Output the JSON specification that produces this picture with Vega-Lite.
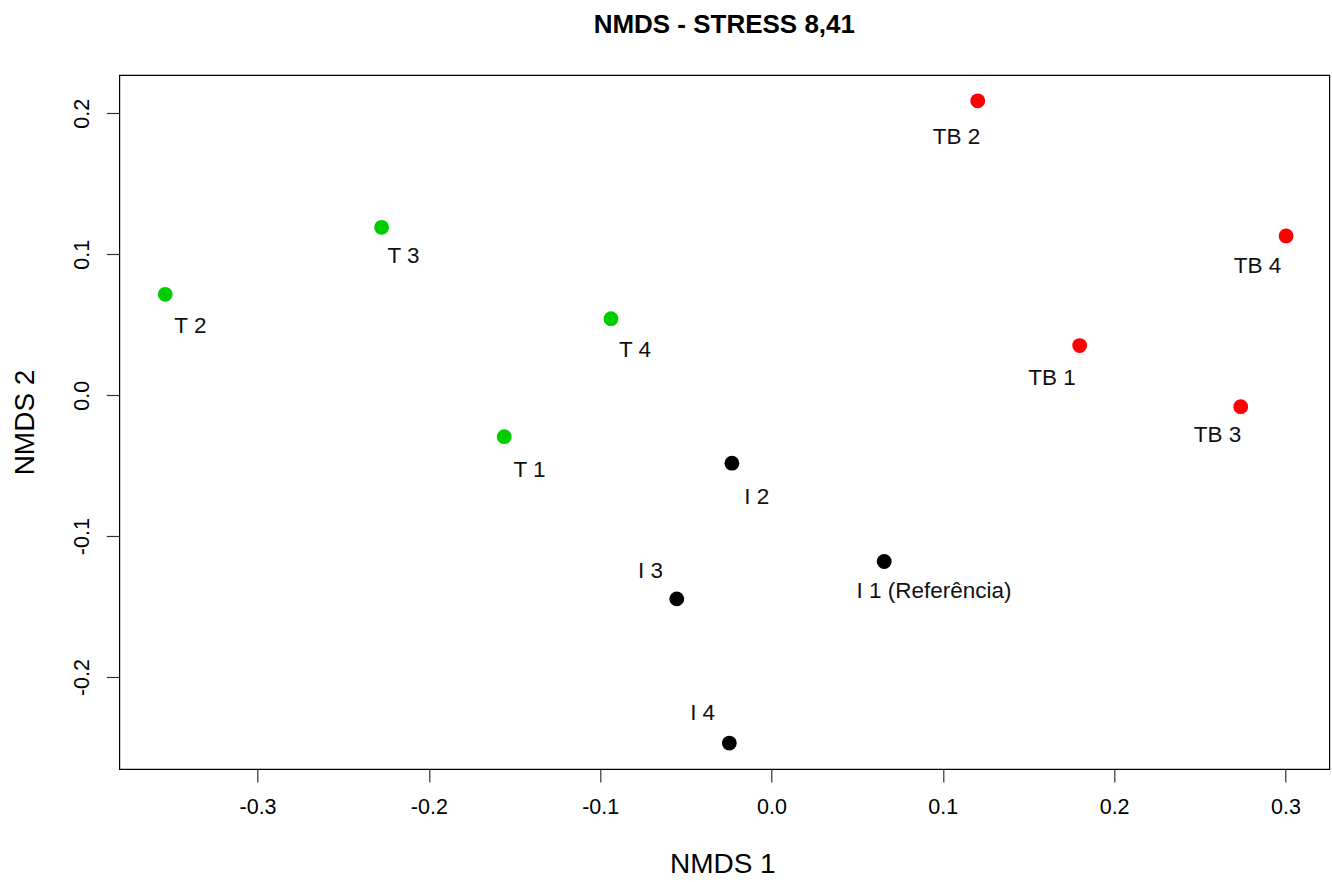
{
  "$schema": "https://vega.github.io/schema/vega-lite/v6.json",
  "width": 1210,
  "height": 694,
  "autosize": {"type": "none"},
  "padding": {"left": 119.3, "top": 75, "right": 2.7, "bottom": 112.7},
  "background": "white",
  "title": {
    "text": "NMDS - STRESS 8,41",
    "font": "Liberation Sans",
    "fontSize": 26,
    "fontWeight": "bold",
    "color": "black",
    "anchor": "middle",
    "baseline": "alphabetic",
    "offset": 44,
    "dy": 28
  },
  "config": {
    "view": {"stroke": "black", "strokeWidth": 1.2},
    "axis": {
      "domain": false,
      "grid": false,
      "ticks": true,
      "tickSize": 13,
      "tickColor": "#333333",
      "tickWidth": 1.2,
      "labelFont": "Liberation Sans",
      "labelFontSize": 21.5,
      "labelColor": "black",
      "titleFont": "Liberation Sans",
      "titleFontSize": 28,
      "titleFontWeight": "normal",
      "titleColor": "black"
    }
  },
  "data": {
    "values": [
      {"id": "TB 2", "group": "TB", "x": 0.1204, "y": 0.2089, "lx": 0.1080, "ly": 0.1780},
      {"id": "TB 4", "group": "TB", "x": 0.3004, "y": 0.1130, "lx": 0.2837, "ly": 0.0870},
      {"id": "TB 1", "group": "TB", "x": 0.1799, "y": 0.0352, "lx": 0.1637, "ly": 0.0073},
      {"id": "TB 3", "group": "TB", "x": 0.2739, "y": -0.0081, "lx": 0.2604, "ly": -0.0329},
      {"id": "T 3", "group": "T", "x": -0.2276, "y": 0.1191, "lx": -0.2148, "ly": 0.0936},
      {"id": "T 2", "group": "T", "x": -0.3539, "y": 0.0716, "lx": -0.3392, "ly": 0.0440},
      {"id": "T 4", "group": "T", "x": -0.0937, "y": 0.0543, "lx": -0.0797, "ly": 0.0270},
      {"id": "T 1", "group": "T", "x": -0.1560, "y": -0.0294, "lx": -0.1413, "ly": -0.0577},
      {"id": "I 2", "group": "I", "x": -0.0231, "y": -0.0482, "lx": -0.0086, "ly": -0.0773},
      {"id": "I 1 (Referência)", "group": "I", "x": 0.0658, "y": -0.1180, "lx": 0.0949, "ly": -0.1440},
      {"id": "I 3", "group": "I", "x": -0.0553, "y": -0.1445, "lx": -0.0706, "ly": -0.1298},
      {"id": "I 4", "group": "I", "x": -0.0246, "y": -0.2468, "lx": -0.0402, "ly": -0.2303}
    ]
  },
  "layer": [
    {
      "mark": {"type": "point", "shape": "circle", "filled": true, "size": 220, "opacity": 1, "strokeWidth": 0},
      "encoding": {
        "x": {
          "field": "x", "type": "quantitative",
          "scale": {"domain": [-0.3807, 0.3256], "nice": false, "zero": false},
          "axis": {
            "title": "NMDS 1",
            "values": [-0.3, -0.2, -0.1, 0, 0.1, 0.2, 0.3],
            "labelExpr": "datum.value < 0 ? '-' + format(abs(datum.value), '.1f') : format(datum.value, '.1f')",
            "labelPadding": 15,
            "titleBaseline": "alphabetic",
            "titleY": 104,
            "titleX": 603
          }
        },
        "y": {
          "field": "y", "type": "quantitative",
          "scale": {"domain": [-0.2652, 0.2272], "nice": false, "zero": false},
          "axis": {
            "title": "NMDS 2",
            "values": [-0.2, -0.1, 0, 0.1, 0.2],
            "labelExpr": "datum.value < 0 ? '-' + format(abs(datum.value), '.1f') : format(datum.value, '.1f')",
            "labelAngle": -90,
            "labelAlign": "center",
            "labelBaseline": "bottom",
            "labelPadding": 13,
            "titleAngle": -90,
            "titleBaseline": "alphabetic",
            "titleX": -86.3,
            "titleY": 347
          }
        },
        "color": {
          "field": "group", "type": "nominal",
          "scale": {"domain": ["I", "T", "TB"], "range": ["#000000", "#00CD00", "#FF0000"]},
          "legend": null
        }
      }
    },
    {
      "mark": {"type": "text", "font": "Liberation Sans", "fontSize": 22.5, "align": "center", "baseline": "alphabetic", "color": "#111111"},
      "encoding": {
        "x": {"field": "lx", "type": "quantitative", "axis": {"title": "NMDS 1"}},
        "y": {"field": "ly", "type": "quantitative", "axis": {"title": "NMDS 2"}},
        "text": {"field": "id", "type": "nominal"}
      }
    }
  ]
}
